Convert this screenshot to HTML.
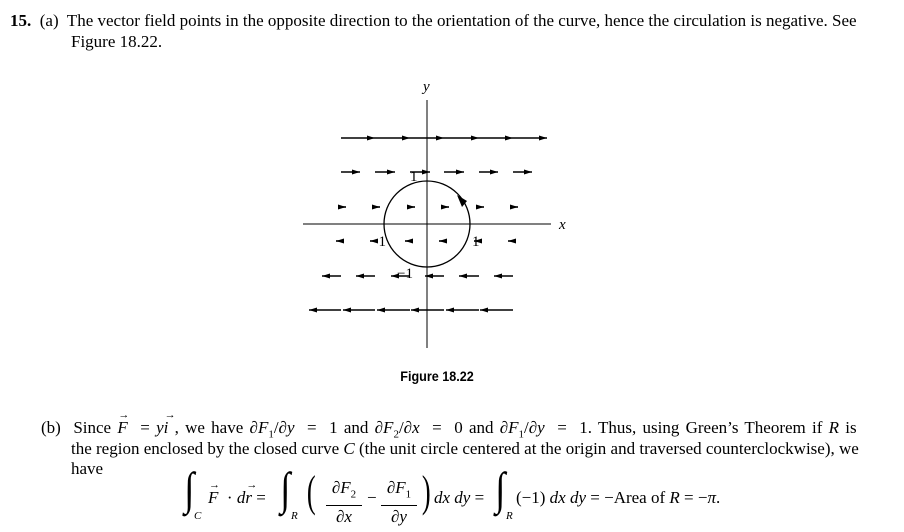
<!DOCTYPE html>
<html><head><style>
body{margin:0;width:904px;height:532px;background:#fff;position:relative;font-family:"Liberation Serif",serif;font-size:17px;color:#000;overflow:hidden}
.t{position:absolute;white-space:nowrap}
i{font-style:italic}
.v{position:relative;display:inline-block}
.v:after{content:"→";position:absolute;left:1px;top:-9px;font-size:11px;font-style:normal}
sub{font-size:11px}
</style></head><body>
<div class="t" style="left:10px;top:11px"><b>15.</b>&nbsp; (a)&nbsp; The vector field points in the opposite direction to the orientation of the curve, hence the circulation is negative. See</div>
<div class="t" style="left:71px;top:32px">Figure 18.22.</div>
<svg width="904" height="532" style="position:absolute;left:0;top:0">
<defs><marker id="a" markerWidth="8" markerHeight="5" refX="8" refY="2.5" orient="auto" markerUnits="userSpaceOnUse"><path d="M0,0L8,2.5L0,5z" fill="#000"/></marker></defs>
<g stroke="#000" stroke-width="1">
<line x1="303" y1="224" x2="551" y2="224"/>
<line x1="427" y1="100" x2="427" y2="348"/>
<circle cx="427" cy="224" r="43" fill="none" stroke-width="1.3"/>
</g>
<g stroke="#000" stroke-width="1.6" marker-end="url(#a)">
<line x1="341" y1="138" x2="375" y2="138"/><line x1="375" y1="138" x2="410" y2="138"/><line x1="410" y1="138" x2="444" y2="138"/><line x1="444" y1="138" x2="479" y2="138"/><line x1="479" y1="138" x2="513" y2="138"/><line x1="513" y1="138" x2="547" y2="138"/>
<line x1="341" y1="172" x2="360" y2="172"/><line x1="375" y1="172" x2="395" y2="172"/><line x1="410" y1="172" x2="430" y2="172"/><line x1="444" y1="172" x2="464" y2="172"/><line x1="479" y1="172" x2="498" y2="172"/><line x1="513" y1="172" x2="532" y2="172"/>
<line x1="341" y1="207" x2="346" y2="207"/><line x1="375" y1="207" x2="380" y2="207"/><line x1="410" y1="207" x2="415" y2="207"/><line x1="444" y1="207" x2="449" y2="207"/><line x1="479" y1="207" x2="484" y2="207"/><line x1="513" y1="207" x2="518" y2="207"/>
<line x1="341" y1="241" x2="336" y2="241"/><line x1="375" y1="241" x2="370" y2="241"/><line x1="410" y1="241" x2="405" y2="241"/><line x1="444" y1="241" x2="439" y2="241"/><line x1="479" y1="241" x2="474" y2="241"/><line x1="513" y1="241" x2="508" y2="241"/>
<line x1="341" y1="276" x2="322" y2="276"/><line x1="375" y1="276" x2="356" y2="276"/><line x1="410" y1="276" x2="391" y2="276"/><line x1="444" y1="276" x2="425" y2="276"/><line x1="479" y1="276" x2="459" y2="276"/><line x1="513" y1="276" x2="494" y2="276"/>
<line x1="341" y1="310" x2="309" y2="310"/><line x1="375" y1="310" x2="343" y2="310"/><line x1="410" y1="310" x2="377" y2="310"/><line x1="444" y1="310" x2="411" y2="310"/><line x1="479" y1="310" x2="446" y2="310"/><line x1="513" y1="310" x2="480" y2="310"/>
</g>
<path d="M457,195 L467,201 L462,207 z" fill="#000"/>
<g font-family="Liberation Serif,serif" font-size="15">
<text x="423" y="91" font-style="italic">y</text>
<text x="559" y="229" font-style="italic">x</text>
<text x="410" y="181">1</text>
<text x="370" y="246">−1</text>
<text x="472" y="246">1</text>
<text x="397" y="278">−1</text>
</g>
<text x="437" y="381" text-anchor="middle" font-family="Liberation Sans,sans-serif" font-weight="bold" font-size="14" transform="translate(437,0) scale(0.9,1) translate(-437,0)">Figure 18.22</text>
</svg>
<div class="t" style="left:41px;top:418px;word-spacing:2px">(b)&nbsp; Since <i class="v">F</i> &nbsp;= <i>y</i><i class="v">i</i> , we have ∂<i>F</i><sub>1</sub>/∂<i>y</i> &nbsp;= &nbsp;1 and ∂<i>F</i><sub>2</sub>/∂<i>x</i> &nbsp;= &nbsp;0 and ∂<i>F</i><sub>1</sub>/∂<i>y</i> &nbsp;= &nbsp;1. Thus, using Green’s Theorem if <i>R</i> is</div>
<div class="t" style="left:71px;top:439px">the region enclosed by the closed curve <i>C</i> (the unit circle centered at the origin and traversed counterclockwise), we</div>
<div class="t" style="left:71px;top:459px">have</div>
<div class="t" style="left:183px;top:462px;font-size:46px;transform:scaleX(0.8)">∫</div><div class="t" style="left:194px;top:510px;font-size:11px"><i>C</i></div>
<div class="t" style="left:208px;top:488px"><i class="v">F</i> &nbsp;· <i>d</i><i class="v">r</i> =</div>
<div class="t" style="left:279px;top:462px;font-size:46px;transform:scaleX(0.8)">∫</div><div class="t" style="left:291px;top:510px;font-size:11px"><i>R</i></div>
<div class="t" style="left:304px;top:466px;font-size:44px;transform:scaleX(0.6)">(</div>
<div class="t" style="left:326px;top:477px;text-align:center;line-height:21px">∂<i>F</i><sub>2</sub><br><span style="border-top:1px solid #000;display:inline-block;width:36px">∂<i>x</i></span></div>
<div class="t" style="left:367px;top:488px">−</div>
<div class="t" style="left:381px;top:477px;text-align:center;line-height:21px">∂<i>F</i><sub>1</sub><br><span style="border-top:1px solid #000;display:inline-block;width:36px">∂<i>y</i></span></div>
<div class="t" style="left:419px;top:466px;font-size:44px;transform:scaleX(0.6)">)</div>
<div class="t" style="left:434px;top:488px"><i>dx dy</i> =</div>
<div class="t" style="left:494px;top:462px;font-size:46px;transform:scaleX(0.8)">∫</div><div class="t" style="left:506px;top:510px;font-size:11px"><i>R</i></div>
<div class="t" style="left:516px;top:488px">(−1) <i>dx dy</i> = −Area of <i>R</i> = −<i>π</i>.</div>
</body></html>
